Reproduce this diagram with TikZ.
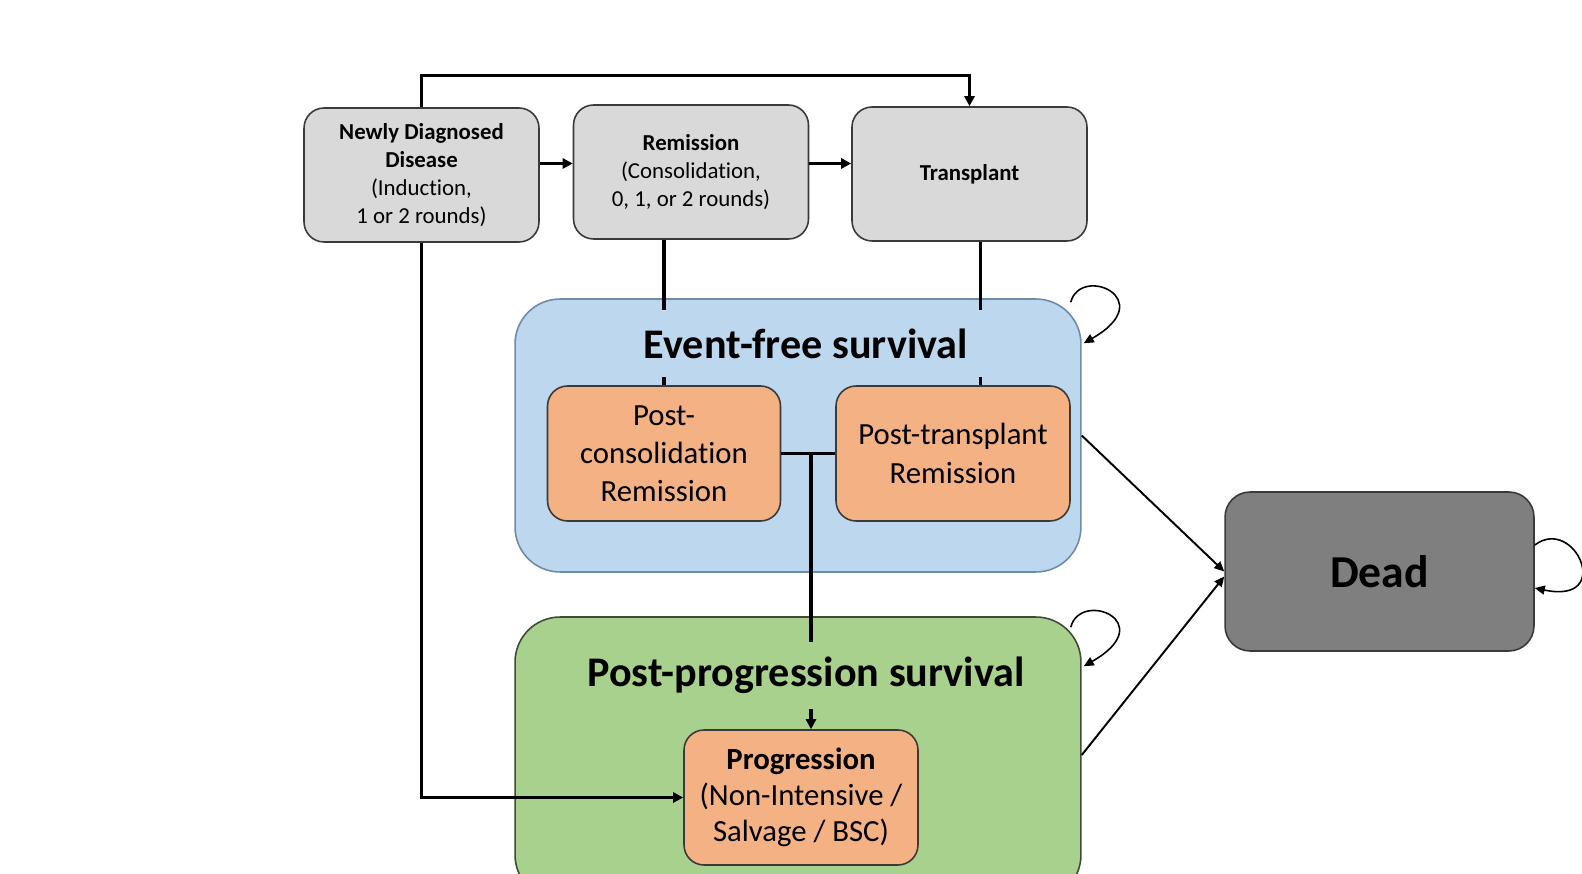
\documentclass[tikz,border=0pt]{standalone}
\usepackage{fontspec}
\setmainfont{Carlito}[Ligatures=NoCommon]
\usetikzlibrary{arrows.meta,positioning,calc}
\definecolor{ink}{HTML}{000000}
\definecolor{edge}{HTML}{3A3A3A}
\definecolor{stategray}{HTML}{D9D9D9}
\definecolor{efsfill}{HTML}{BDD7EE}
\definecolor{efsline}{HTML}{6F8BAA}
\definecolor{ppsfill}{HTML}{A9D18E}
\definecolor{ppsline}{HTML}{3F4A38}
\definecolor{subfill}{HTML}{F4B183}
\definecolor{deadfill}{HTML}{7F7F7F}
\tikzset{
  state/.style={draw=edge, fill=stategray, line width=0.9pt, rounded corners=0.4cm,
    minimum width=4.7cm, minimum height=2.68cm, align=center, inner sep=2pt,
    font=\fontsize{13}{16}\selectfont, text=ink},
  group/.style={line width=0.9pt, rounded corners=0.9cm, minimum width=11.32cm, inner sep=0pt},
  substate/.style={draw=edge, fill=subfill, line width=0.9pt, rounded corners=0.4cm,
    minimum width=4.66cm, minimum height=2.7cm, align=center, inner sep=2pt,
    font=\fontsize{17.5}{21.7}\selectfont, text=ink},
  grouptitle/.style={minimum width=8.4cm, minimum height=1.34cm, inner sep=0pt,
    font=\fontsize{24}{28}\selectfont\bfseries, text=ink},
  deadbox/.style={draw=edge, fill=deadfill, line width=0.9pt, rounded corners=0.5cm,
    minimum width=6.18cm, minimum height=3.18cm, font=\fontsize{26}{30}\selectfont\bfseries, text=ink},
  flow/.style={-{Triangle[length=2mm,width=2mm]}, ink, line width=1.8pt},
  link/.style={ink, line width=1.8pt},
  exit/.style={-{Triangle[length=2mm,width=1.8mm]}, ink, line width=1.1pt},
  stay/.style={-{Triangle[length=2mm,width=1.8mm]}, ink, line width=0.9pt}
}

\begin{document}
\begin{tikzpicture}[x=0.02cm,y=-0.02cm]
\useasboundingbox (0,0) rectangle (1582,874);
\clip (0,0) rectangle (1582,874);

% health states grouped by survival
\node[group, fill=efsfill, draw=efsline, minimum height=5.46cm] (efs) at (798,435.5) {};
\node[group, fill=ppsfill, draw=ppsline, minimum height=5.66cm] (pps) at (798,758.5) {};

% treatment pathway
\node[state] (newly) at (421.5,175) {\textbf{Newly Diagnosed}\\\textbf{Disease}\\(Induction,\\1 or 2 rounds)};
\node[state] (remis) at (691,172) {\textbf{Remission}\\(Consolidation,\\0, 1, or 2 rounds)};
\node[state] (transp) at (969.5,174) {\textbf{Transplant}};

\node[substate] (pcons) at (664,453.5) {Post-\\consolidation\\Remission};
\node[substate, minimum width=4.68cm] (ptrans) at (953,453.5) {Post-transplant\\Remission};
\node[substate, minimum width=4.68cm, font=\fontsize{17.5}{20.6}\selectfont] (prog) at (801,797.5) {\textbf{Progression}\\(Non-Intensive /\\Salvage / BSC)};

\node[deadbox] (dead) at (1379.5,571.5) {Dead};

% transitions
\coordinate (rowarrow) at (0,163.5);
\coordinate (split) at (811,453.5);
\draw[flow] (newly.north) -- ++(0,-32) -| (transp.north);
\draw[flow] (newly.east |- rowarrow) -- (remis.west |- rowarrow);
\draw[flow] (remis.east |- rowarrow) -- (transp.west |- rowarrow);
\draw[link] (pcons.north |- remis.south) -- (pcons.north);
\draw[link] ([xshift=0.22cm]transp.south) -- ([xshift=0.22cm]transp.south |- ptrans.north);
\draw[link] (pcons.east) -- (ptrans.west);
\draw[flow] (split) -- (split |- prog.north);
\draw[flow] (newly.south) |- (prog.west);

\node[grouptitle, fill=efsfill] (efstitle) at (806,343.5) {Event-free survival};
\node[grouptitle, fill=ppsfill] (ppstitle) at (806,675.5) {Post-progression survival};

\draw[exit] (efs.east) -- (dead.west);
\draw[exit] ([yshift=0.07cm]pps.east) -- ([yshift=-0.1cm]dead.west);

% staying in the same state
\draw[stay] ([shift={(-0.22cm,-0.08cm)}]efs.north east) .. controls +(10,-38) and +(77,-44) .. ([shift={(0.04cm,-0.9cm)}]efs.north east);
\draw[stay] ([shift={(-0.22cm,-0.22cm)}]pps.north east) .. controls +(10,-38) and +(77,-44) .. ([shift={(0.04cm,-1.0cm)}]pps.north east);
\draw[stay] ([yshift=0.53cm]dead.east) .. controls +(40,-30) and +(80,17) .. ([yshift=-0.33cm]dead.east);

\end{tikzpicture}
\end{document}
